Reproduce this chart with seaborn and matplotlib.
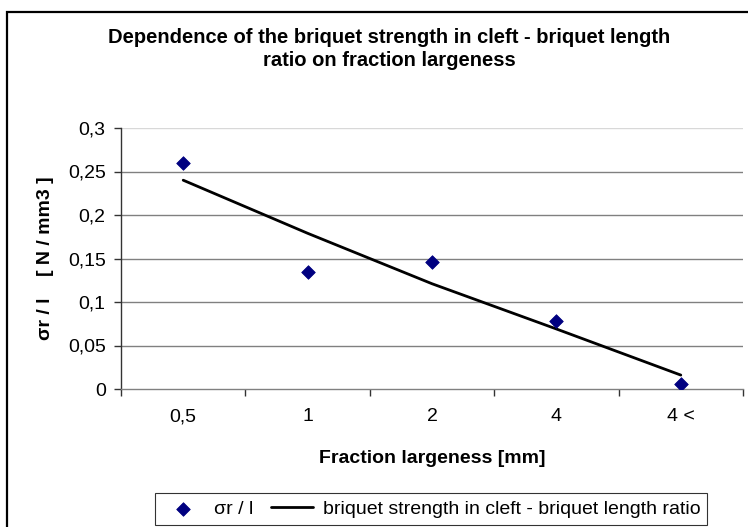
import numpy as np
import pandas as pd
import seaborn as sns
import matplotlib.pyplot as plt
from matplotlib.patches import Rectangle
from matplotlib.ticker import FuncFormatter

# Values
categories = ['0,5', '1', '2', '4', '4 <']
measured = [0.26, 0.135, 0.146, 0.078, 0.006]
ratio_line = [0.24, 0.179, 0.121, 0.069, 0.016]
y_ticks = [0, 0.05, 0.1, 0.15, 0.2, 0.25, 0.3]

df = pd.DataFrame({
    'pos': np.arange(len(categories)),
    'measured': measured,
    'line': ratio_line,
})

sns.set_style('white')
plt.rcParams['font.family'] = ['Liberation Sans', 'DejaVu Sans']
plt.rcParams.update({'text.color': 'black', 'axes.labelcolor': 'black',
                     'xtick.color': 'black', 'ytick.color': 'black'})
fs = 14

fig = plt.figure(figsize=(7.48, 5.27), dpi=100)
ax = fig.add_axes([121 / 748, 1 - 389 / 527, (743 - 121) / 748, (389 - 128) / 527])

# gridlines
for t in y_ticks[1:-1]:
    ax.axhline(t, color='#808080', lw=1, zorder=0)
ax.axhline(0.3, color='#d8d8d8', lw=1, zorder=0)

sns.lineplot(data=df, x='pos', y='line', color='black', lw=2, ax=ax,
             label='briquet strength in cleft - briquet length ratio', zorder=2)
sns.scatterplot(data=df, x='pos', y='measured', marker='D', s=48, color='#000080',
                edgecolor='#000080', ax=ax, label='σr / l', zorder=3)

ax.set_xlim(-0.5, len(categories) - 0.5)
ax.set_ylim(0, 0.3)
ax.set_yticks(y_ticks)
ax.yaxis.set_major_formatter(FuncFormatter(lambda v, p: ('%g' % round(v, 2)).replace('.', ',')))
ax.set_xticks(df['pos'])
ax.set_xticklabels(categories)
ax.set_xticks(np.arange(-0.5, len(categories)), minor=True)
ax.tick_params(axis='x', which='major', length=0, pad=14, labelsize=fs)
ax.tick_params(axis='x', which='minor', length=5, width=1, color='#333333', direction='out')
ax.tick_params(axis='y', length=5, width=1, color='#333333', direction='out', pad=6, labelsize=fs)
ax.tick_params(bottom=True, left=True, which='both')

for side in ['top', 'right']:
    ax.spines[side].set_visible(False)
ax.spines['left'].set_color('#333333')
ax.spines['bottom'].set_color('#808080')
ax.spines['left'].set_linewidth(1)
ax.spines['bottom'].set_linewidth(1)

ax.set_xlabel('Fraction largeness [mm]', fontsize=fs, fontweight='bold', labelpad=18)
ax.set_ylabel('σr / l    [ N / mm3 ]', fontsize=fs, fontweight='bold', labelpad=10)

fig.text(389 / 748, 1 - 49 / 527,
         'Dependence of the briquet strength in cleft - briquet length\nratio on fraction largeness',
         ha='center', va='center', fontsize=14.5, fontweight='bold', linespacing=1.25)

handles, labels = ax.get_legend_handles_labels()
ax.legend(handles[::-1], labels[::-1], loc='center', bbox_to_anchor=(431 / 748, 1 - 509 / 527),
          bbox_transform=fig.transFigure, ncol=2, frameon=True, fancybox=False,
          edgecolor='black', fontsize=fs, handlelength=2.2, handletextpad=0.5,
          columnspacing=0.9, borderpad=0.35)
ax.get_legend().get_frame().set_linewidth(0.8)

# outer chart border
fig.patches.append(Rectangle((7 / 748, -0.1), 1.2, 1.1 - 12 / 527, transform=fig.transFigure,
                             fill=False, edgecolor='black', lw=1.6))

fig.savefig('out.png', dpi=100)
